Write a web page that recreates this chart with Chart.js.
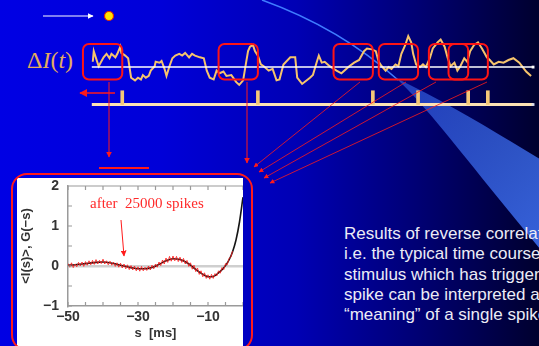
<!DOCTYPE html>
<html>
<head>
<meta charset="utf-8">
<script src="https://cdn.jsdelivr.net/npm/chart.js@4/dist/chart.umd.min.js"></script>
<style>
  html, body { margin: 0; padding: 0; }
  body {
    width: 539px; height: 346px; overflow: hidden; position: relative;
    background: linear-gradient(to right, #0000e4 0%, #0000d8 30%, #0000b4 55%, #000072 78%, #00002e 100%);
    font-family: "Liberation Sans", Arial, sans-serif;
  }
  .abs { position: absolute; }
  canvas { position: absolute; }
  #delta { left: 27px; top: 48px; font: 24px/24px "Liberation Serif", "Times New Roman", serif; color: #e2aa5e; white-space: nowrap; }
  #after { left: 90px; top: 194px; font: 15px/18px "Liberation Serif", "Times New Roman", serif; color: #ff2a2a; white-space: pre; }
  #words { left: 344px; top: 224px; font-size: 17px; line-height: 20.3px; color: #ececf6; white-space: nowrap; }
  #insetBg { left: 17px; top: 178px; width: 226px; height: 168px; background: #fff; }
</style>
</head>
<body>

<svg class="abs" width="539" height="346" style="left:0;top:0">
  <defs>
    <linearGradient id="wedge" x1="0" y1="0" x2="1" y2="1">
      <stop offset="0" stop-color="#3a6cf0" stop-opacity="0.55"/>
      <stop offset="1" stop-color="#3d6ef0" stop-opacity="0.9"/>
    </linearGradient>
  </defs>
  <path d="M262,0 Q340,28 398,80" stroke="#3f7cff" stroke-width="1.5" fill="none"/>
  <path d="M396,78 C432,112 470,165 545,255 L545,162 C500,135 450,104 396,78 Z" fill="url(#wedge)"/>
</svg>

<div class="abs" id="delta">&Delta;<i>I</i>(<i>t</i>)</div>
<div class="abs" id="words">Results of reverse correlation,<br>i.e. the typical time course of the<br>stimulus which has triggered a<br>spike can be interpreted as the<br>&ldquo;meaning&rdquo; of a single spike</div>

<canvas id="trace" width="464" height="70" style="left:76px;top:25px"></canvas>
<canvas id="spikes" width="464" height="27" style="left:76px;top:84px"></canvas>

<div class="abs" id="insetBg"></div>
<canvas id="inset" width="226" height="168" style="left:17px;top:178px"></canvas>
<div class="abs" id="after">after  25000 spikes</div>

<svg class="abs" width="539" height="346" style="left:0;top:0">
  <defs>
    <marker id="ah" viewBox="0 0 10 10" refX="9" refY="5" markerWidth="6" markerHeight="6" orient="auto">
      <path d="M0,0 L10,5 L0,10 Z" fill="#ff1a1a"/>
    </marker>
    <marker id="wh" viewBox="0 0 10 10" refX="9" refY="5" markerWidth="5" markerHeight="5" orient="auto">
      <path d="M0,0 L10,5 L0,10 Z" fill="#ffffff"/>
    </marker>
  </defs>
  <line x1="43" y1="16" x2="93" y2="16" stroke="#fff" stroke-width="1.2" marker-end="url(#wh)"/>
  <circle cx="109" cy="16" r="4.5" fill="#ffe600" stroke="#e02a00" stroke-width="1.2"/>

  <line x1="115" y1="93" x2="80" y2="93" stroke="#ff1a1a" stroke-width="1.3" marker-end="url(#ah)"/>
  <line x1="109" y1="82" x2="109" y2="157" stroke="#ff1a1a" stroke-width="1" marker-end="url(#ah)"/>
  <line x1="99" y1="168" x2="149" y2="168" stroke="#ff1a1a" stroke-width="2"/>
  <line x1="247" y1="82" x2="247" y2="163" stroke="#ff1a1a" stroke-width="1" marker-end="url(#ah)"/>
  <line x1="360" y1="82" x2="254" y2="167" stroke="#ff1a1a" stroke-width="0.8" marker-end="url(#ah)"/>
  <line x1="406" y1="82" x2="259" y2="172" stroke="#ff1a1a" stroke-width="0.8" marker-end="url(#ah)"/>
  <line x1="436" y1="82" x2="264" y2="178" stroke="#ff1a1a" stroke-width="0.8" marker-end="url(#ah)"/>
  <line x1="487" y1="82" x2="270" y2="183" stroke="#ff1a1a" stroke-width="0.8" marker-end="url(#ah)"/>

  <rect x="12" y="174" width="240" height="176" rx="15" ry="15" fill="none" stroke="#ff1a1a" stroke-width="2"/>
  <line x1="121" y1="220" x2="124" y2="256" stroke="#ff1a1a" stroke-width="1" marker-end="url(#ah)"/>
</svg>

<script>
// stimulus trace (time, arbitrary units around baseline)
const traceT = [1, 2, 7, 12, 15, 18, 20, 24, 26, 29, 30, 34, 37, 40, 44, 47, 50, 52, 55, 58,
  60, 64, 65, 69, 71, 74, 76, 79, 82, 85, 89, 92, 95, 99, 102, 105, 110, 114, 117, 120,
  124, 127, 130, 134, 137, 142, 147, 150, 154, 157, 159, 161, 164, 166, 169, 172, 175, 180, 184, 188,
  191, 195, 202, 207, 209, 214, 222, 225, 229, 231, 234, 237, 242, 249, 254, 262, 267, 272, 277, 280,
  285, 289, 292, 295, 299, 302, 305, 309, 312, 315, 319, 322, 325, 327, 330, 334, 337, 340, 344, 347,
  352, 355, 359, 362, 365, 369, 372, 375, 379, 382, 385, 389, 393, 397, 402, 405, 409, 414, 419, 424,
  429, 435, 442, 447];
const traceV = [0.6, 1.8, 0.1, 1.1, 1.5, 1.0, 1.5, 1.1, 1.5, 2.3, 1.6, 1.3, 1.0, -1.2, -1.5, -1.2, -1.4, -0.9, -1.2, -1.0,
  -0.4, 0.1, 0.6, 0.5, 0.7, -0.2, -1.0, 0.1, 1.0, 1.3, 1.5, 1.3, 1.6, 1.1, 1.5, 1.3, 1.1, 1.0, -0.4, -1.2,
  -1.4, -0.4, -0.7, -0.5, -1.0, -0.9, -1.7, -2.0, -1.5, 0.5, 1.8, 2.3, 2.5, 1.8, 1.3, 0.3, 0.1, -0.4, -0.2, -1.5,
  -1.4, 0.3, 1.1, 1.1, -1.2, -1.9, -1.2, -0.9, 0.6, 1.3, 0.5, 0.6, 0.1, -0.4, -0.7, 0.1, 0.5, 0.8, 1.8, 2.1,
  2.0, 1.8, 0.6, 0.1, -0.4, 0.0, -0.2, 0.3, 0.1, 1.5, 2.5, 3.5, 2.8, 1.5, 0.3, 0.0, 0.3, 0.0, 1.0, 2.1,
  2.8, 3.1, 2.3, 1.1, 0.1, 0.5, -0.4, 0.1, 1.0, 0.6, 1.8, 2.5, 2.8, 2.1, 1.1, 0.8, 0.3, 0.6, 0.5, 0.8,
  1.0, 0.5, -0.5, -1.0];
const traceEnd = 449;

// spike times and the window shown before each spike
const spikeT = [31, 169, 286, 332, 383, 403];
const windowLen = 40;

// reverse correlation: smooth kernel G(-s) and noisy average <I(s)>
const kernelS = [-50, -48, -46, -44, -42, -40, -38, -36, -34, -32, -30, -28, -26, -24, -22, -20, -18, -16, -14, -12,
  -11, -10, -9, -8, -7, -6, -5, -4, -3, -2, -1, 0];
const kernelG = [0.02, 0.03, 0.05, 0.07, 0.09, 0.1, 0.08, 0.04, 0.0, -0.04, -0.07, -0.07, -0.04, 0.04, 0.13, 0.18, 0.16, 0.08, -0.05, -0.18,
  -0.23, -0.27, -0.27, -0.24, -0.17, -0.09, 0.01, 0.15, 0.35, 0.65, 1.1, 1.72];
const avgS = [-50, -49.5, -49, -48.5, -48, -47.5, -47, -46.5, -46, -45.5, -45, -44.5, -44, -43.5, -43, -42.5, -42, -41.5, -41, -40.5,
  -40, -39.5, -39, -38.5, -38, -37.5, -37, -36.5, -36, -35.5, -35, -34.5, -34, -33.5, -33, -32.5, -32, -31.5, -31, -30.5,
  -30, -29.5, -29, -28.5, -28, -27.5, -27, -26.5, -26, -25.5, -25, -24.5, -24, -23.5, -23, -22.5, -22, -21.5, -21, -20.5,
  -20, -19.5, -19, -18.5, -18, -17.5, -17, -16.5, -16, -15.5, -15, -14.5, -14, -13.5, -13, -12.5, -12, -11.5, -11, -10.5,
  -10, -9.5, -9, -8.5, -8, -7.5, -7, -6.5, -6, -5.5, -5, -4.5, -4, -3.5, -3];
const avgI = [0.06, -0.03, 0.08, -0.04, 0.05, -0.02, 0.09, 0.0, 0.1, -0.01, 0.11, 0.02, 0.13, 0.03, 0.14, 0.04, 0.16, 0.05, 0.14, 0.06,
  0.17, 0.05, 0.13, 0.03, 0.12, 0.02, 0.1, -0.01, 0.08, -0.03, 0.07, -0.05, 0.05, -0.07, 0.03, -0.09, 0.01, -0.1, 0.0, -0.12,
  -0.02, -0.13, -0.01, -0.12, -0.03, -0.11, 0.0, -0.1, 0.02, -0.07, 0.05, -0.03, 0.1, 0.01, 0.15, 0.05, 0.2, 0.09, 0.24, 0.12,
  0.25, 0.13, 0.24, 0.11, 0.22, 0.09, 0.19, 0.05, 0.14, -0.01, 0.08, -0.08, 0.02, -0.14, -0.05, -0.21, -0.12, -0.27, -0.17, -0.31,
  -0.22, -0.33, -0.21, -0.31, -0.19, -0.25, -0.12, -0.18, -0.04, -0.09, 0.06, 0.03, 0.19, 0.22, 0.37];

const xTicks = [-50, -30, -10];
const xMinor = [-50, -45, -40, -35, -30, -25, -20, -15, -10, -5, 0];
const yTicks = [-1, 0, 1, 2];
const yMinor = [-1, -0.5, 0, 0.5, 1, 1.5, 2];

const pts = (xs, ys) => xs.map((x, i) => ({ x: x, y: ys[i] }));
const minus = v => String(v).replace('-', '\u2212');
const bare = {
  responsive: false, animation: false, devicePixelRatio: 1,
  layout: { padding: 0 },
  plugins: { legend: { display: false }, tooltip: { enabled: false } }
};

// red windows before each spike
const spikeBoxes = {
  id: 'spikeBoxes',
  afterDatasetsDraw(chart) {
    const { ctx, scales: { x, y } } = chart;
    ctx.save();
    ctx.strokeStyle = '#ff1414';
    ctx.lineWidth = 2;
    spikeT.forEach(t => {
      const l = x.getPixelForValue(t - windowLen), r = x.getPixelForValue(t);
      const top = y.getPixelForValue(2.6), bot = y.getPixelForValue(-1.4);
      ctx.beginPath();
      ctx.roundRect(l, top, r - l, bot - top, 6);
      ctx.stroke();
    });
    ctx.restore();
  }
};

new Chart(document.getElementById('trace'), {
  type: 'line',
  data: {
    datasets: [
      { data: [{ x: 0, y: 0 }, { x: traceEnd, y: 0 }], borderColor: '#ffffff', borderWidth: 1.5,
        pointRadius: [0, 2], pointStyle: 'rect', pointBackgroundColor: '#ffffff', pointBorderWidth: 0, clip: false },
      { data: pts(traceT, traceV), borderColor: '#f6c46c', borderWidth: 2, pointRadius: 0, tension: 0, clip: false }
    ]
  },
  options: Object.assign({}, bare, {
    scales: {
      x: { type: 'linear', min: -12, max: 452, display: false },
      y: { min: -2.7, max: 4.3, display: false }
    }
  }),
  plugins: [spikeBoxes]
});

new Chart(document.getElementById('spikes'), {
  data: {
    datasets: [
      { type: 'bar', data: spikeT.map(t => ({ x: t, y: 1 })), backgroundColor: '#f4c878', barThickness: 3 },
      { type: 'line', data: [{ x: 0, y: 0 }, { x: traceEnd, y: 0 }], borderColor: '#fde2b4', borderWidth: 3,
        pointRadius: [0, 2], pointStyle: 'rect', pointBackgroundColor: '#dcdcec', pointBorderWidth: 0, clip: false }
    ]
  },
  options: Object.assign({}, bare, {
    scales: {
      x: { type: 'linear', min: -12, max: 452, offset: false, display: false, grid: { offset: false } },
      y: { min: -0.18, max: 1.2, display: false }
    }
  })
});

// frame top line and inward tick marks
const frameTicks = {
  id: 'frameTicks',
  afterDraw(chart) {
    const { ctx, chartArea: a, scales: { x, y } } = chart;
    ctx.save();
    ctx.strokeStyle = '#9a9a9a';
    ctx.lineWidth = 1.2;
    ctx.beginPath();
    ctx.moveTo(a.left, a.top); ctx.lineTo(a.right, a.top);
    yMinor.forEach(v => { const p = y.getPixelForValue(v); ctx.moveTo(a.left, p); ctx.lineTo(a.left + 4, p); });
    xMinor.forEach(v => {
      const p = x.getPixelForValue(v);
      ctx.moveTo(p, a.bottom); ctx.lineTo(p, a.bottom - 4);
      ctx.moveTo(p, a.top); ctx.lineTo(p, a.top + 4);
    });
    ctx.stroke();
    ctx.restore();
  }
};

const tickFont = { family: 'Liberation Sans', size: 14, weight: 'bold' };

new Chart(document.getElementById('inset'), {
  type: 'line',
  data: {
    datasets: [
      { data: pts(avgS, avgI), borderColor: 'rgba(255,30,30,0.85)', borderWidth: 1, pointRadius: 0, tension: 0 },
      { data: pts(kernelS, kernelG), borderColor: '#151515', borderWidth: 1.6, pointRadius: 0, cubicInterpolationMode: 'monotone' }
    ]
  },
  options: Object.assign({}, bare, {
    layout: { padding: { top: 8, right: 0, bottom: 0, left: 0 } },
    scales: {
      x: {
        type: 'linear', min: -50, max: 0,
        afterBuildTicks: s => { s.ticks = xTicks.map(v => ({ value: v })); },
        afterFit: s => { s.height = 40; s.paddingLeft = 0; s.paddingRight = 0; },
        border: { display: true, color: '#9a9a9a', width: 1.5 },
        grid: { display: false, drawTicks: false },
        ticks: { padding: 3, color: '#333', font: tickFont, maxRotation: 0, autoSkip: false, callback: minus },
        title: { display: true, text: 's  [ms]', color: '#333', font: { family: 'Liberation Sans', size: 13, weight: 'bold' },
          padding: { top: 0, bottom: 5 } }
      },
      y: {
        min: -1, max: 2,
        afterBuildTicks: s => { s.ticks = yTicks.map(v => ({ value: v })); },
        afterFit: s => { s.width = 51; s.paddingTop = 0; s.paddingBottom = 0; },
        border: { display: true, color: '#9a9a9a', width: 1.5 },
        grid: { drawTicks: false, color: c => c.tick && c.tick.value === 0 ? '#cfcfcf' : 'rgba(0,0,0,0)', lineWidth: 2.5 },
        ticks: { padding: 9, color: '#333', font: tickFont, callback: minus },
        title: { display: true, text: '<I(s)>, G(\u2212s)', color: '#333', font: { family: 'Liberation Sans', size: 13, weight: 'bold' },
          padding: { top: 2, bottom: 0 } }
      }
    }
  }),
  plugins: [frameTicks]
});
</script>
</body>
</html>
